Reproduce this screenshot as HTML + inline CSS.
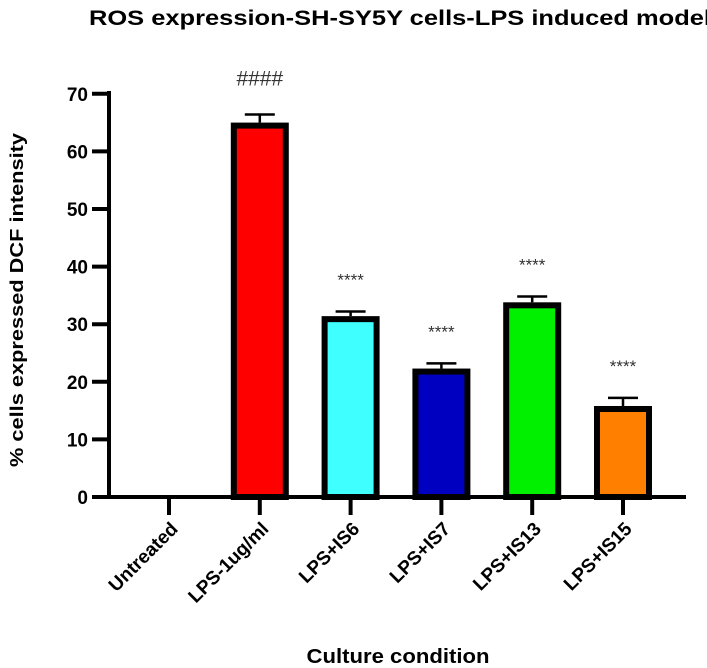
<!DOCTYPE html>
<html><head><meta charset="utf-8"><style>
html,body{margin:0;padding:0;background:#fff;}
svg{display:block;font-family:"Liberation Sans",Arial,sans-serif;}
</style></head><body>
<svg id="chart" width="707" height="668" viewBox="0 0 707 668">
<text x="89" y="25" font-size="21" font-weight="bold" textLength="622" lengthAdjust="spacingAndGlyphs">ROS  expression-SH-SY5Y cells-LPS induced model</text>
<text transform="translate(23,300) rotate(-90)" text-anchor="middle" font-size="18" font-weight="bold" textLength="334" lengthAdjust="spacingAndGlyphs">% cells expressed DCF intensity</text>
<text x="398" y="663" text-anchor="middle" font-size="20" font-weight="bold" textLength="183" lengthAdjust="spacingAndGlyphs">Culture condition</text>
<g id="plot"></g>
</svg>
<script>
const categories = ["Untreated","LPS-1ug/ml","LPS+IS6","LPS+IS7","LPS+IS13","LPS+IS15"];
const values = [0, 65, 31.4, 22.3, 33.8, 15.8];
const errors = [0, 1.4, 0.8, 0.9, 1.0, 1.4];
const colors = ["#ffffff","#ff0000","#40ffff","#0000c0","#00f000","#ff8000"];
const annotations = ["", "####", "****", "****", "****", "****"];
const yTicks = [0,10,20,30,40,50,60,70];

(function(){
  const NS = "http://www.w3.org/2000/svg";
  const plot = document.getElementById("plot");
  function yScale(v) { return 497 - Number(v) * 5.76; }
  function xScale(i) { return 169 + i * 90.8; }
  function mk(tag, attrs) {
    const el = document.createElementNS(NS, tag);
    Object.keys(attrs).forEach(function(k){ el.setAttribute(k, String(attrs[k])); });
    plot.appendChild(el);
    return el;
  }
  let ax = mk("line", {x1:109, y1:91, x2:109, y2:499, stroke:"#000", "stroke-width":4});
  
  
  ax = mk("line", {x1:107, y1:497, x2:686, y2:497, stroke:"#000", "stroke-width":4});
  
  
  for (let k = 0; k < yTicks.length; k++) {
    const t = yTicks[k];
    const py = yScale(t);
    const tl = mk("line", {x1:92, y1:py, x2:109, y2:py, stroke:"#000", "stroke-width":4});
    
    
    const tx = mk("text", {x:88, y:py+7, "text-anchor":"end", "font-size":19, "font-weight":"bold"});
    tx.textContent = String(t);
    
    
  }
  for (let i = 0; i < categories.length; i++) {
    const cx = xScale(i);
    const tk = mk("line", {x1:cx, y1:497, x2:cx, y2:515, stroke:"#000", "stroke-width":4});
    
    
    const lx = cx + 10, ly = 530;
    const lb = mk("text", {x:lx, y:ly, "text-anchor":"end", "font-size":19, "font-weight":"bold", transform:"rotate(-45 " + lx + " " + ly + ")"});
    lb.textContent = categories[i];
    
    
    const v = values[i];
    if (v > 0) {
      const top = yScale(v), et = yScale(v + errors[i]);
      const eb = mk("line", {x1:cx, y1:top, x2:cx, y2:et, stroke:"#000", "stroke-width":2.5});
      
      
      const cap = mk("line", {x1:cx-15, y1:et, x2:cx+15, y2:et, stroke:"#000", "stroke-width":2.5});
      
      
      const r = mk("rect", {x:cx-26, y:top+3, width:52, height:Math.max(0, 497-top-3), fill:colors[i], stroke:"#000", "stroke-width":6});
      
      
      if (annotations[i]) {
        const isHash = annotations[i].charAt(0) === "#";
        const an = mk("text", {x:cx, y:et - (isHash ? 29 : 26), "text-anchor":"middle", "font-size": isHash ? 21 : 17, fill:"#333"});
        an.textContent = annotations[i];
        
        
      }
    }
  }
})();
</script>
</body></html>
